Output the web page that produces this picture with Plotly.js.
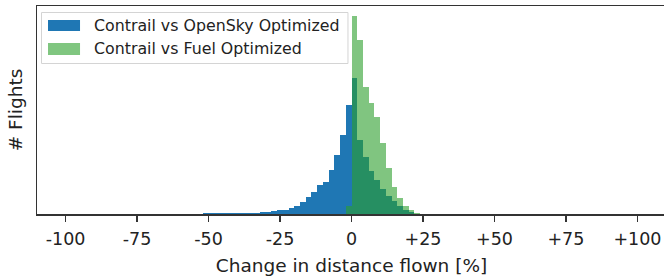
<!DOCTYPE html>
<html>
<head>
<meta charset="utf-8">
<script src="https://cdn.plot.ly/plotly-3.0.1.min.js"></script>
<style>
html,body{margin:0;padding:0;overflow:hidden;background:#fff;}
#chart{width:666px;height:279px;}
</style>
</head>
<body>
<div id="chart"></div>
<script>
// Bin centers (% change, 2% wide bins)
const openskyBins = [-65,-63,-61,-59,-57,-55,-53,-51,-49,-47,-45,-43,-41,-39,-37,-35,-33,-31,-29,-27,-25,-23,-21,-19,-17,-15,-13,-11,-9,-7,-5,-3,-1,1,3,5,7,9,11,13,15,17,19,21,23];
const openskyCounts = [2,2,3,3,4,4,5,6,7,8,9,10,10,11,11,12,13,17,23,30,40,38,62,85,120,165,215,285,320,440,590,785,1090,1360,740,570,430,340,250,180,130,85,40,20,5];

const fuelBins = [-1,1,3,5,7,9,11,13,15,17,19,21,23];
const fuelCounts = [80,1980,1740,1270,1110,970,710,460,270,160,85,40,10];

const tickVals = [-100,-75,-50,-25,0,25,50,75,100];
const tickText = ['-100','-75','-50','-25','0','+25','+50','+75','+100'];

const seriesNames = ['Contrail vs OpenSky Optimized','Contrail vs Fuel Optimized'];

const blue = '#1f77b4';
const green = '#2ca02c';
const font = 'DejaVu Sans, sans-serif';

const traces = [
  {type:'bar', x:openskyBins, y:openskyCounts, width:2, name:seriesNames[0],
   marker:{color:blue, line:{width:0}}, showlegend:false, hoverinfo:'skip'},
  {type:'bar', x:fuelBins, y:fuelCounts, width:2, name:seriesNames[1],
   marker:{color:green, line:{width:0}}, opacity:0.6, showlegend:false, hoverinfo:'skip'}
];

const ymax = Math.max(...fuelCounts, ...openskyCounts) * 1.05;

const layout = {
  width:666, height:279,
  margin:{l:37, r:0, t:6, b:65},
  paper_bgcolor:'#fff', plot_bgcolor:'#fff',
  barmode:'overlay', bargap:0,
  font:{family:font, color:'#222', size:17},
  xaxis:{
    range:[-110,110], tickvals:tickVals, ticktext:tickText,
    ticks:'outside', ticklen:6, tickwidth:1.3, tickcolor:'#333',
    ticklabelstandoff:2,
    showline:true, mirror:true, linecolor:'#333', linewidth:1.5,
    showgrid:false, zeroline:false,
    tickfont:{family:font, size:17.5, color:'#222'},
    title:{text:'Change in distance flown [%]', font:{family:font, size:18.5, color:'#222'}, standoff:11}
  },
  yaxis:{
    range:[0, ymax], showticklabels:false, ticks:'',
    showline:true, mirror:true, linecolor:'#333', linewidth:1.5,
    showgrid:false, zeroline:false,
    title:{text:'# Flights', font:{family:font, size:18.5, color:'#222'}, standoff:8}
  },
  shapes:[
    {type:'rect', xref:'paper', yref:'paper', x0:0.0072, x1:0.4944, y0:0.7236, y1:0.9688,
     line:{color:'#d4d4d4', width:1}, fillcolor:'rgba(255,255,255,0.85)', layer:'above'},
    {type:'rect', xref:'paper', yref:'paper', x0:0.0175, x1:0.0684, y0:0.8798, y1:0.9327,
     line:{width:0}, fillcolor:blue, layer:'above'},
    {type:'rect', xref:'paper', yref:'paper', x0:0.0175, x1:0.0684, y0:0.7644, y1:0.8221,
     line:{width:0}, fillcolor:'rgba(44,160,44,0.6)', layer:'above'}
  ],
  annotations:[
    {xref:'paper', yref:'paper', x:0.088, y:0.9063, xanchor:'left', yanchor:'middle',
     text:seriesNames[0], showarrow:false, font:{family:font, size:15.8, color:'#222'}},
    {xref:'paper', yref:'paper', x:0.088, y:0.7933, xanchor:'left', yanchor:'middle',
     text:seriesNames[1], showarrow:false, font:{family:font, size:15.8, color:'#222'}}
  ]
};

Plotly.newPlot('chart', traces, layout, {staticPlot:true, displayModeBar:false});
</script>
</body>
</html>
